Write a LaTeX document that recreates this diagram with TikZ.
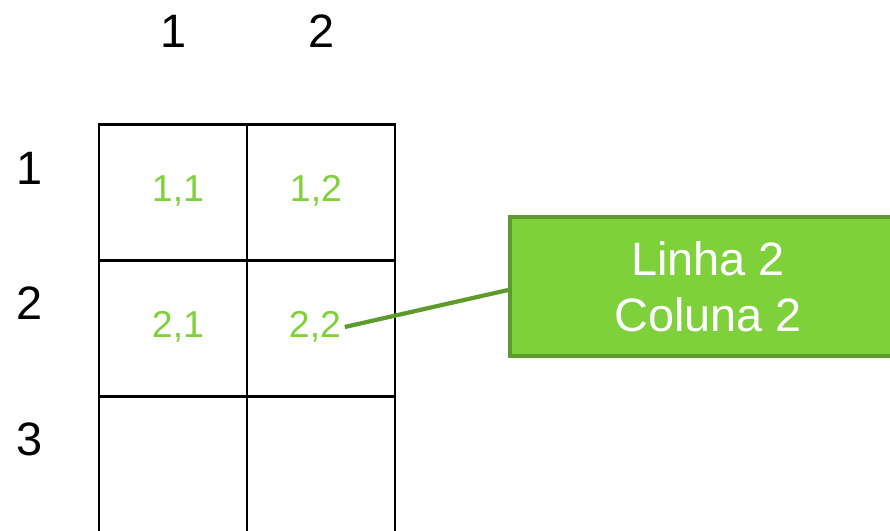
\documentclass[tikz,border=0pt]{standalone}
\usepackage{fontspec}
\setmainfont{Liberation Sans}
\usepackage{tikz}

\definecolor{leaf}{HTML}{7FD13B}
\definecolor{leafdark}{HTML}{5E9B2C}

\begin{document}
\begin{tikzpicture}[x=0.03cm, y=-0.03cm,
    cell/.style={draw, line width=2pt, minimum width=4.44cm, minimum height=4.08cm, inner sep=0pt},
    idx/.style={font=\fontsize{40}{44}\selectfont},
    val/.style={text=leaf, font=\fontsize{32}{36}\selectfont, inner sep=3pt},
    callout/.style={draw=leafdark, fill=leaf, line width=3.4pt, text=white, align=center,
        minimum width=11.88cm, minimum height=4.17cm, font=\fontsize{40}{48.5}\selectfont}]
        \clip (0, 0) rectangle (890, 531);

        % column and row numbers
        \node[idx] (col1) at (174, 31) {1};
        \node[idx] (col2) at (322, 31) {2};
        \node[idx] (row1) at (30, 168) {1};
        \node[idx] (row2) at (30, 303) {2};
        \node[idx] (row3) at (30, 439) {3};

        % the matrix cells
        \node[cell] (g11) at (173, 192.5) {};
        \node[cell] (g12) at (321, 192.5) {};
        \node[cell] (g21) at (173, 328.5) {};
        \node[cell] (g22) at (321, 328.5) {};
        \node[cell] (g31) at (173, 464.5) {};
        \node[cell] (g32) at (321, 464.5) {};

        \node[val] (v11) at (178, 191) {1,1};
        \node[val] (v12) at (316, 191) {1,2};
        \node[val] (v21) at (178, 327) {2,1};
        \node[val] (v22) at (315, 327) {2,2};

        \node[callout] (box) at (708, 286.5) {Linha 2\\[-1pt]Coluna 2};

        \draw[leafdark, line width=3.6pt] (v22.east) -- ([yshift=-3pt]box.west);
\end{tikzpicture}
\end{document}
